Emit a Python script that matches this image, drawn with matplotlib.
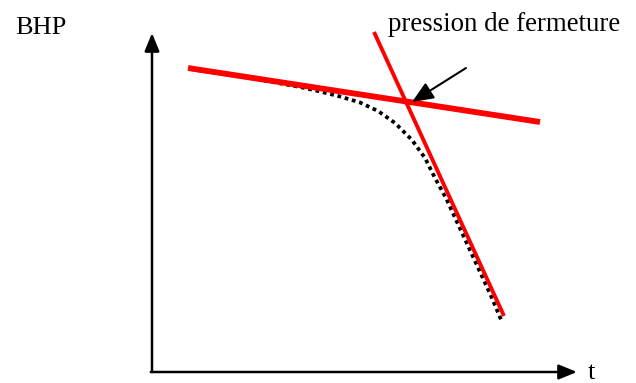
import numpy as np
import matplotlib.pyplot as plt

# BHP vs time: measured curve (dotted) and the two straight-line trends
t_curve = [0.95, 2.45, 3.7, 4.2, 4.7, 5.2, 5.65, 6.075, 6.5, 6.825,
           7.075, 7.35, 7.625, 7.925, 8.2125, 8.4875, 8.75]
bhp_curve = [7.575, 7.35, 7.125, 7.0125, 6.8875, 6.7375, 6.525, 6.225, 5.8,
             5.35, 4.85, 4.35, 3.75, 3.1, 2.475, 1.875, 1.25]

t_early = [0.9, 9.7]
bhp_early = [7.6, 6.25]

t_late = [5.55, 8.8]
bhp_late = [8.5, 1.4]

closure_pt = (6.5, 6.75)
label_pt = (7.85, 7.6)

fig = plt.figure(figsize=(6.36, 3.83), dpi=100)
ax = fig.add_axes([0, 0, 1, 1])
ax.set_xlim(-3.8, 12.1)
ax.set_ylim(-0.275, 9.3)
ax.axis('off')

serif = 'Liberation Serif'

# axes with arrow heads
ax.annotate('', xy=(0, 8.475), xytext=(0, 0),
            arrowprops=dict(arrowstyle='-|>,head_length=1.1,head_width=0.45',
                            color='black', lw=1.8, shrinkA=0, shrinkB=0))
ax.annotate('', xy=(10.625, 0), xytext=(-0.03, 0),
            arrowprops=dict(arrowstyle='-|>,head_length=1.1,head_width=0.45',
                            color='black', lw=1.8, shrinkA=0, shrinkB=0))

ax.plot(t_curve, bhp_curve, color='black', lw=2.7,
        linestyle=(0, (1, 1)), dash_capstyle='butt')
ax.plot(t_early, bhp_early, color='#ff0000', lw=4.2, solid_capstyle='butt')
ax.plot(t_late, bhp_late, color='#ff0000', lw=2.8, solid_capstyle='butt')

ax.annotate('', xy=closure_pt, xytext=label_pt,
            arrowprops=dict(arrowstyle='-|>,head_length=1.3,head_width=0.55',
                            color='black', lw=1.5, shrinkA=0, shrinkB=0))

ax.text(-3.425, 8.6, 'BHP', fontsize=19, family=serif, ha='left', va='center')
ax.text(5.9, 8.68, 'pression de fermeture', fontsize=19.4, family=serif,
        ha='left', va='center')
ax.text(10.9, -0.02, 't', fontsize=19, family=serif, ha='left', va='center')

fig.savefig('out.png', dpi=100)
